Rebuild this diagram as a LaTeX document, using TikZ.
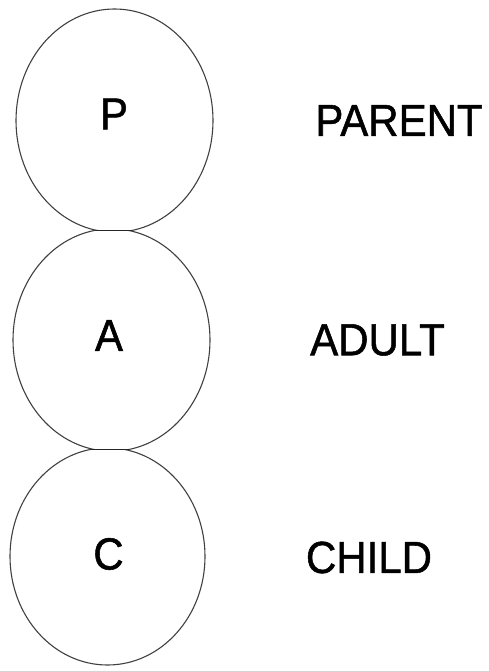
\documentclass[tikz,border=0pt]{standalone}
\usepackage{fontspec}
\setmainfont[FakeBold=1.2]{Liberation Sans}
\begin{document}
\begin{tikzpicture}[x=1pt,y=-1pt,
  ring/.style={draw=black!75,line width=1.1pt},
  joint/.style={draw=black!85,line width=1.4pt},
  txt/.style={inner sep=0pt,yscale=1.07,font=\fontsize{42}{50}\selectfont}]
\useasboundingbox (0,0) rectangle (488,671);
% top circle (Parent)
\begin{scope}
  \clip (0,0) rectangle (488,230.5);
  \draw[ring] (114.5,120.6) ellipse [x radius=98.5,y radius=111.6];
\end{scope}
% middle circle (Adult)
\begin{scope}
  \clip (0,230.5) rectangle (488,449.5);
  \draw[ring] (111.5,340) ellipse [x radius=98.5,y radius=111.2];
\end{scope}
% bottom circle (Child)
\begin{scope}
  \clip (0,449.5) rectangle (488,671);
  \draw[ring] (107.5,556.4) ellipse [x radius=97.5,y radius=108.6];
\end{scope}
% flat joints
\draw[joint] (94.5,230.5) -- (131.5,230.5);
\draw[joint] (91,449.5) -- (129,449.5);
% letters
\node[txt] (p) at (114,114) {P};
\node[txt] (a) at (109,335.5) {A};
\node[txt] (c) at (108.5,554) {C};
% labels
\node[txt] (parent) at (399,120.5) {PARENT};
\node[txt] (adult) at (377.5,340) {ADULT};
\node[txt] (child) at (369,557.5) {CHILD};
\end{tikzpicture}
\end{document}
